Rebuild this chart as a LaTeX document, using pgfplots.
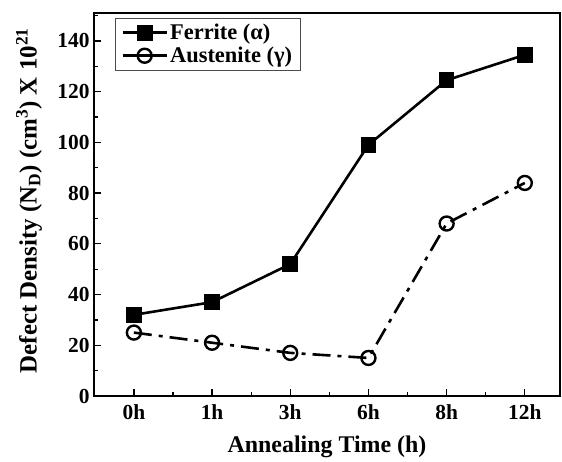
\documentclass[border=0pt]{standalone}
\usepackage{pgfplots}
\pgfplotsset{compat=1.18}
\usepackage{fontspec}
\setmainfont{Liberation Serif}
\begin{document}
\begin{tikzpicture}
\begin{axis}[
  scale only axis, width=466bp, height=383bp,
  xmin=-0.51, xmax=5.45, ymin=0, ymax=151,
  xtick={0,1,2,3,4,5}, xticklabels={0h,1h,3h,6h,8h,12h},
  minor xtick={0.5,1.5,2.5,3.5,4.5},
  ytick={0,20,...,140}, minor ytick={10,30,...,150},
  tick align=inside, xtick pos=bottom, ytick pos=left,
  major tick length=7bp, minor tick length=4bp,
  axis line style={line width=1.6bp},
  every tick/.style={line width=1.3bp, black},
  /pgf/number format/assume math mode=true,
  ticklabel style={font=\fontsize{21.5}{24}\selectfont\bfseries},
  xticklabel style={yshift=-5bp},
  yticklabel style={xshift=-1bp},
  xlabel={Annealing Time (h)},
  ylabel={Defect Density (N\textsubscript{D}) (cm\textsuperscript{3}) X 10\textsuperscript{21}},
  every axis x label/.style={at={(axis description cs:0.5,-0.133)}, anchor=center,
    font=\fontsize{24}{26}\selectfont\bfseries},
  every axis y label/.style={at={(axis description cs:-0.1395,0.51)}, anchor=center, rotate=90,
    font=\fontsize{25}{27}\selectfont\bfseries},
  legend style={at={(0.045,0.987)}, anchor=north west, draw=black!70,
    font=\fontsize{22.5}{24}\selectfont\bfseries, inner xsep=6bp, inner ysep=4bp,
    row sep=2bp, cells={anchor=west}},
  legend image post style={line width=3bp},
  legend image code/.code={
    \draw[#1, solid] (0bp,0bp) -- (44bp,0bp);
    \draw[#1, solid] plot coordinates {(22bp,0bp)};
  },
]
\addplot[black, line width=2.6bp, mark=square*, mark size=6.5bp, mark options={solid}]
  coordinates {(0,32) (1,37) (2,52) (3,99) (4,124.5) (5,134.5)};
\addlegendentry{Ferrite (α)}
\addplot[black, line width=2.6bp, dash pattern=on 18bp off 7bp on 4bp off 7bp,
  mark=o, mark size=7bp, mark options={solid, fill=white, line width=2.4bp}]
  coordinates {(0,25) (1,21) (2,17) (3,15) (4,68) (5,84)};
\addlegendentry{Austenite (γ)}
\end{axis}
\path ([xshift=-94bp,yshift=-66bp]current axis.south west) rectangle ([xshift=2bp,yshift=13bp]current axis.north east);
\end{tikzpicture}
\end{document}
